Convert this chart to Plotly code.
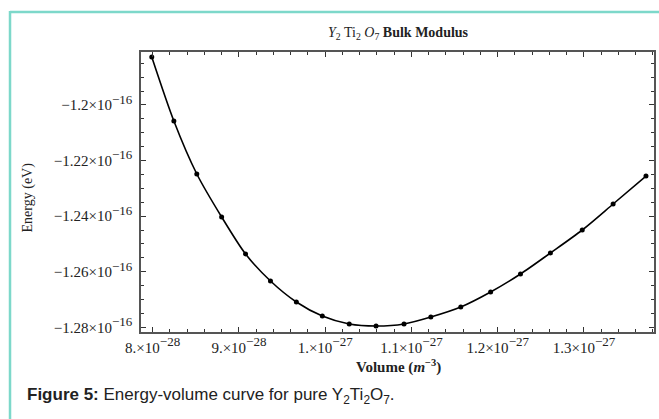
import plotly.graph_objects as go

volume = [7.99e-28, 8.246e-28, 8.512e-28, 8.800e-28, 9.077e-28, 9.366e-28, 9.666e-28,
          9.967e-28, 10.279e-28, 10.590e-28, 10.914e-28, 11.225e-28, 11.572e-28,
          11.918e-28, 12.264e-28, 12.611e-28, 12.980e-28, 13.338e-28, 13.719e-28]
energy = [-1.18277e-16, -1.20579e-16, -1.22486e-16, -1.24032e-16, -1.25363e-16,
          -1.26335e-16, -1.27090e-16, -1.27594e-16, -1.27881e-16, -1.27953e-16,
          -1.27881e-16, -1.27630e-16, -1.27270e-16, -1.26730e-16, -1.26083e-16,
          -1.25327e-16, -1.24500e-16, -1.23565e-16, -1.22558e-16]

x_tickvals = [8e-28, 9e-28, 1e-27, 1.1e-27, 1.2e-27, 1.3e-27]
x_mant = ["8.", "9.", "1.", "1.1", "1.2", "1.3"]
x_exp = ["−28", "−28", "−27", "−27", "−27", "−27"]
y_tickvals = [-1.2e-16, -1.22e-16, -1.24e-16, -1.26e-16, -1.28e-16]
y_mant = ["−1.2", "−1.22", "−1.24", "−1.26", "−1.28"]
y_exp = ["−16", "−16", "−16", "−16", "−16"]

SUP = '<sup><span style="font-size:13px">{}</span></sup>'
x_ticktext = [m + "×10" + SUP.format(e) for m, e in zip(x_mant, x_exp)]
y_ticktext = [m + "×10" + SUP.format(e) for m, e in zip(y_mant, y_exp)]

W, H = 659, 419
L, R, T, B = 141, 656, 52, 332
pw, ph = R - L, B - T

def px(x):
    return (x - L) / pw

def py(y):
    return (B - y) / ph

serif = "Liberation Serif, Times New Roman, serif"

fig = go.Figure()
fig.add_trace(go.Scatter(
    x=volume, y=energy, mode="lines+markers",
    line=dict(color="black", width=1.6, shape="spline", smoothing=0.8),
    marker=dict(color="black", size=5),
    showlegend=False, hoverinfo="skip",
))

axis_common = dict(
    showgrid=False, zeroline=False, showline=True, linecolor="#555", linewidth=1.5,
    mirror="ticks", ticks="inside", ticklen=5, tickcolor="#333", tickwidth=1,
    tickfont=dict(family=serif, size=15, color="#222"),
)

fig.update_xaxes(
    range=[7.865e-28, 13.812e-28], tickmode="array",
    tickvals=x_tickvals, ticktext=x_ticktext, ticklabelstandoff=1,
    minor=dict(dtick=2e-29, tick0=8e-28, ticks="inside", ticklen=3, tickcolor="#333", showgrid=False),
    **axis_common,
)
fig.update_yaxes(
    range=[-1.28169e-16, -1.18097e-16], tickmode="array",
    tickvals=y_tickvals, ticktext=y_ticktext, ticklabelstandoff=4,
    minor=dict(dtick=5e-19, tick0=-1.28e-16, ticks="inside", ticklen=3, tickcolor="#333", showgrid=False),
    **axis_common,
)

shapes = [
    dict(type="line", xref="paper", yref="paper", x0=px(9.5), x1=px(W + 5), y0=py(12), y1=py(12),
         line=dict(color="#7dd8ca", width=2.5)),
    dict(type="line", xref="paper", yref="paper", x0=px(9.5), x1=px(9.5), y0=py(11), y1=py(H + 5),
         line=dict(color="#7dd8ca", width=2.5)),
]

annotations = [
    dict(text="<i>Y</i><sub>2</sub> Ti<sub>2</sub> <i>O</i><sub>7</sub> <b>Bulk Modulus</b>",
         x=px(400), y=py(33), xref="paper", yref="paper", showarrow=False,
         font=dict(family=serif, size=14, color="#222"), xanchor="center", yanchor="middle"),
    dict(text="<b>Volume (<i>m</i><sup>−3</sup>)</b>",
         x=px(400), y=py(366), xref="paper", yref="paper", showarrow=False,
         font=dict(family=serif, size=15, color="#222"), xanchor="center", yanchor="middle"),
    dict(text="Energy (eV)", textangle=-90,
         x=px(28), y=py(197), xref="paper", yref="paper", showarrow=False,
         font=dict(family=serif, size=14, color="#222"), xanchor="center", yanchor="middle"),
    dict(text="<b>Figure 5:</b> Energy-volume curve for pure Y<sub>2</sub>Ti<sub>2</sub>O<sub>7</sub>.",
         x=px(25), y=py(396), xref="paper", yref="paper", showarrow=False,
         font=dict(family="Liberation Sans, Arial, sans-serif", size=17, color="#222"),
         xanchor="left", yanchor="middle"),
]

fig.update_layout(
    width=W, height=H, margin=dict(l=L, r=W - R, t=T, b=H - B),
    paper_bgcolor="white", plot_bgcolor="white",
    shapes=shapes, annotations=annotations,
)

fig.write_html("out.html", config={"displayModeBar": False},
               post_script="document.body.style.margin='0';document.body.style.overflow='hidden';")
